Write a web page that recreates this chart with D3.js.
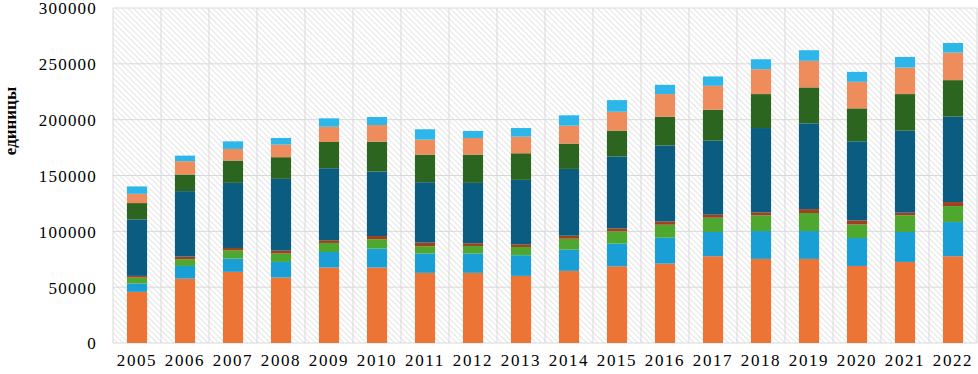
<!DOCTYPE html>
<html lang="ru">
<head>
<meta charset="UTF-8">
<title>единицы</title>
<script src="https://d3js.org/d3.v7.min.js"></script>
<style>
  body { margin: 0; background: #fff; }
  text { font-family: "Liberation Serif", "Times New Roman", serif; fill: #000; }
</style>
</head>
<body>
<svg id="chart" width="978" height="374"></svg>
<script>
const years = ["2005","2006","2007","2008","2009","2010","2011","2012","2013",
               "2014","2015","2016","2017","2018","2019","2020","2021","2022"];

// stacked series, bottom to top
const s1 = [45800,57700,63700,58600,67600,67600,62800,62800,60100,64600,68700,71100,77700,75300,75300,69000,72600,77700];
const s2 = [7500,11300,11900,14000,13900,16900,17300,17300,18500,19000,20300,23200,21700,25000,25000,25000,26800,30600];
const s3 = [5300,6000,7400,7500,8100,8400,6500,6800,7400,9800,11000,11600,12800,14000,16100,12200,14900,14300];
const s4 = [1500,2400,2100,2600,2400,2900,3300,2400,2400,2700,2700,3000,2700,2700,3500,3600,2400,3600];
const s5 = [50600,58600,58300,64300,64500,57800,54100,54100,57700,59800,64300,67900,66300,75500,76800,70800,73500,76500];
const s6 = [14600,14900,20000,19400,23500,26700,24700,25300,23800,22700,23200,25900,27700,30400,32200,29500,32700,32700];
const s7 = [8300,11900,10400,11300,13700,14900,13400,14900,14900,16000,16900,20200,21400,22300,23800,23800,23800,24700];
const s8 = [6600,5000,6800,5900,7500,7200,9300,6300,7700,9300,10400,8300,8400,8900,9500,8900,9500,8600];

const yTicks = [0, 50000, 100000, 150000, 200000, 250000, 300000];
const seriesKeys = ["s1","s2","s3","s4","s5","s6","s7","s8"];
const colors = ["#ec7434","#1a9ed6","#4ea72e","#a0401c","#0a5c80","#2c6520","#ef8c5c","#2db6ea"];

const table = years.map((y, i) => ({
  year: y, s1: s1[i], s2: s2[i], s3: s3[i], s4: s4[i],
  s5: s5[i], s6: s6[i], s7: s7[i], s8: s8[i]
}));

const plotLeft = 113, plotRight = 977, plotTop = 8, plotBottom = 343;

const svg = d3.select("#chart");

// hatch pattern for the plot background
const defs = svg.append("defs");
const pat = defs.append("pattern")
  .attr("id", "hatch")
  .attr("patternUnits", "userSpaceOnUse")
  .attr("width", 4).attr("height", 4)
  .attr("patternTransform", "rotate(-45)");
pat.append("line")
  .attr("x1", 0).attr("y1", 0).attr("x2", 0).attr("y2", 4)
  .attr("stroke", "#d4d4d4").attr("stroke-width", 1.2);

const x = d3.scaleBand()
  .domain(years)
  .range([plotLeft, plotRight])
  .paddingInner(0.58)
  .paddingOuter(0.29);

const y = d3.scaleLinear()
  .domain([0, 300000])
  .range([plotBottom, plotTop]);

svg.append("rect")
  .attr("x", plotLeft).attr("y", plotTop)
  .attr("width", plotRight - plotLeft).attr("height", plotBottom - plotTop)
  .attr("fill", "url(#hatch)");

// horizontal grid
svg.append("g")
  .selectAll("line")
  .data(yTicks)
  .join("line")
  .attr("x1", plotLeft).attr("x2", plotRight)
  .attr("y1", d => y(d)).attr("y2", d => y(d))
  .attr("stroke", "#d9d9d9").attr("stroke-width", 1);

// vertical grid at category boundaries
const step = x.step();
svg.append("g")
  .selectAll("line")
  .data(d3.range(years.length + 1))
  .join("line")
  .attr("x1", i => plotLeft + i * step).attr("x2", i => plotLeft + i * step)
  .attr("y1", plotTop).attr("y2", plotBottom)
  .attr("stroke", "#d9d9d9").attr("stroke-width", 1);

const stack = d3.stack().keys(seriesKeys);
const layers = stack(table);

svg.append("g")
  .selectAll("g")
  .data(layers)
  .join("g")
  .attr("fill", (d, i) => colors[i])
  .selectAll("rect")
  .data(d => d)
  .join("rect")
  .attr("x", d => x(d.data.year))
  .attr("width", x.bandwidth())
  .attr("y", d => y(d[1]))
  .attr("height", d => y(d[0]) - y(d[1]));

// y axis labels
const yAxis = svg.append("g")
  .attr("transform", `translate(${plotLeft},0)`)
  .call(d3.axisLeft(y).tickValues(yTicks).tickSize(0).tickPadding(16).tickFormat(d3.format("d")));
yAxis.select(".domain").remove();
yAxis.selectAll("text")
  .style("font-family", "'Liberation Serif', serif")
  .style("font-size", "17px")
  .style("letter-spacing", "1.2px")
  .attr("dy", "0.35em");

// x axis labels
const xAxis = svg.append("g")
  .attr("transform", `translate(0,${plotBottom})`)
  .call(d3.axisBottom(x).tickSize(0).tickPadding(11));
xAxis.select(".domain").remove();
xAxis.selectAll("text")
  .style("font-family", "'Liberation Serif', serif")
  .style("font-size", "17px")
  .style("letter-spacing", "1.6px");

svg.append("text")
  .attr("transform", "translate(16,121) rotate(-90)")
  .attr("text-anchor", "middle")
  .style("font-size", "17px")
  .style("font-weight", "bold")
  .text("единицы");
</script>
</body>
</html>
